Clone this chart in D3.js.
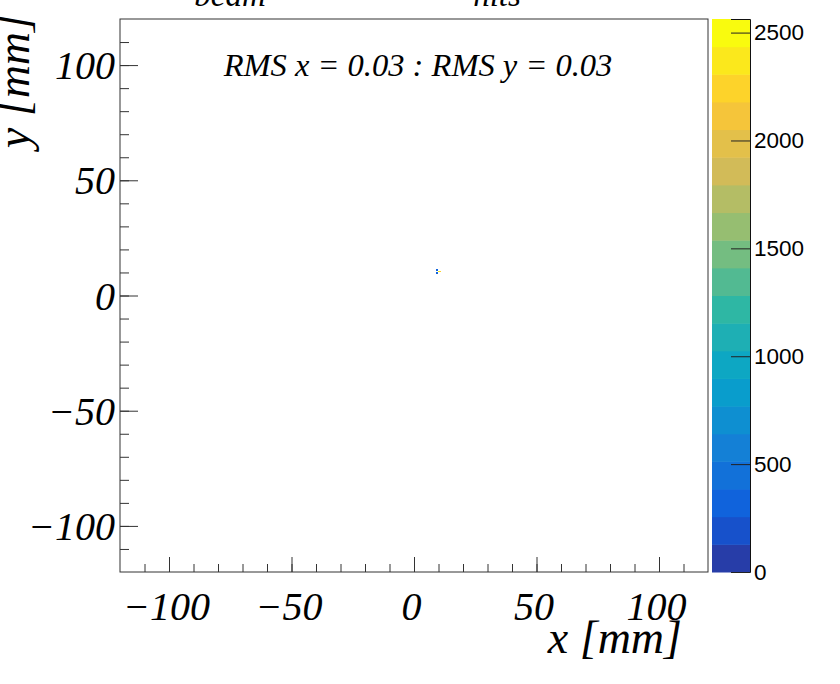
<!DOCTYPE html>
<html>
<head>
<meta charset="utf-8">
<script src="https://cdn.jsdelivr.net/npm/d3@7"></script>
<style>
  body { margin: 0; background: #fff; }
  svg { display: block; }
  .tim { font-family: "Liberation Serif", "Times New Roman", serif; font-style: italic; }
  .hel { font-family: "Liberation Sans", Arial, sans-serif; }
</style>
</head>
<body>
<svg id="chart" width="840" height="684"></svg>
<script>
// beam spot hits (2D histogram, bins of 0.8 mm)
var cellX = [9.6, 10.4, 8.8, 8.8];
var cellY = [10.0, 10.0, 10.8, 9.2];
var cellZ = [2563, 2300, 380, 320];
var binW = 0.8;

var xMajor = [-100, -50, 0, 50, 100];
var yMajor = [-100, -50, 0, 50, 100];
var zMajor = [0, 500, 1000, 1500, 2000, 2500];
var zMax = 2563;
var nLevels = 20;

var titleWords = ["beam", "hits"];
var statText = "RMS x = 0.03 : RMS y = 0.03";

(function () {
  // kBird palette stops
  var birdStops = ["#352a87", "#0f5cdd", "#1481d6", "#06a4ca", "#2eb7a4", "#87bf77", "#d1bb59", "#fec832", "#f9fb0e"];
  var bird = d3.piecewise(d3.interpolateRgb, birdStops);

  function levelColor(i) {
    var idx = Math.floor((i + 0.99) * 255 / nLevels);
    return bird(Math.min(idx, 254) / 254);
  }
  function zColor(v) {
    var lvl = Math.floor(0.01 + v / zMax * nLevels);
    return levelColor(Math.min(lvl, nLevels - 1));
  }
  function minusFmt(d) { return d < 0 ? "\u2212" + (-d) : d; }

  var svg = d3.select("#chart");
  var fL = 120, fR = 708, fT = 19, fB = 572;

  var x = d3.scaleLinear().domain([-120, 120]).range([fL, fR]);
  var y = d3.scaleLinear().domain([-120, 120]).range([fB, fT]);
  var z = d3.scaleLinear().domain([0, zMax]).range([fB, fT]);

  // cells
  svg.append("g").attr("shape-rendering", "crispEdges").selectAll("rect")
    .data(cellX.map(function (d, i) { return {x: d, y: cellY[i], z: cellZ[i]}; }))
    .enter().append("rect")
    .attr("x", function (d) { return x(d.x); })
    .attr("y", function (d) { return y(d.y + binW); })
    .attr("width", function (d) { return x(d.x + binW) - x(d.x); })
    .attr("height", function (d) { return y(d.y) - y(d.y + binW); })
    .attr("fill", function (d) { return zColor(d.z); });

  // frame
  svg.append("rect")
    .attr("x", fL).attr("y", fT)
    .attr("width", fR - fL).attr("height", fB - fT)
    .attr("fill", "none").attr("stroke", "#333").attr("stroke-width", 1);

  // x axis
  var xMinor = d3.range(-110, 120, 10);
  svg.append("g")
    .attr("transform", "translate(0," + fB + ")")
    .call(d3.axisBottom(x).tickValues(xMinor).tickSize(-8).tickFormat(""))
    .call(function (g) { g.select(".domain").remove(); g.selectAll("line").attr("stroke", "#333"); });
  var xAx = svg.append("g")
    .attr("transform", "translate(0," + fB + ")")
    .call(d3.axisBottom(x).tickValues(xMajor).tickSize(-15).tickFormat(minusFmt));
  xAx.select(".domain").remove();
  xAx.selectAll("line").attr("stroke", "#333");
  xAx.selectAll("text")
    .attr("class", "tim").attr("font-size", 40).attr("fill", "#000")
    .attr("x", -3).attr("y", 48).attr("dy", 0);

  // y axis
  var yMinor = d3.range(-110, 120, 10);
  svg.append("g")
    .attr("transform", "translate(" + fL + ",0)")
    .call(d3.axisLeft(y).tickValues(yMinor).tickSize(-9).tickFormat(""))
    .call(function (g) { g.select(".domain").remove(); g.selectAll("line").attr("stroke", "#333"); });
  var yAx = svg.append("g")
    .attr("transform", "translate(" + fL + ",0)")
    .call(d3.axisLeft(y).tickValues(yMajor).tickSize(-18).tickFormat(minusFmt));
  yAx.select(".domain").remove();
  yAx.selectAll("line").attr("stroke", "#333");
  yAx.selectAll("text")
    .attr("class", "tim").attr("font-size", 40).attr("fill", "#000")
    .attr("x", -5).attr("dy", "0.34em");

  // axis titles
  svg.append("text").attr("class", "tim")
    .attr("x", 682).attr("y", 653).attr("text-anchor", "end")
    .attr("font-size", 46).text("x [mm]");
  svg.append("text").attr("class", "tim")
    .attr("transform", "translate(29,14) rotate(-90)")
    .attr("text-anchor", "end")
    .attr("font-size", 46).text("y [mm]");

  // title (cut at the top)
  svg.append("text").attr("class", "tim")
    .attr("x", 230).attr("y", 6).attr("text-anchor", "middle")
    .attr("font-size", 33).text(titleWords[0]);
  svg.append("text").attr("class", "tim")
    .attr("x", 497).attr("y", 6).attr("text-anchor", "middle")
    .attr("font-size", 33).text(titleWords[1]);

  // stats
  svg.append("text").attr("class", "tim")
    .attr("x", 418).attr("y", 76).attr("text-anchor", "middle")
    .attr("font-size", 32.5).text(statText);

  // colour bar
  var barL = 712, barR = 750;
  svg.append("g").selectAll("rect")
    .data(d3.range(nLevels)).enter().append("rect")
    .attr("x", barL)
    .attr("y", function (i) { return z((i + 1) * zMax / nLevels); })
    .attr("width", barR - barL)
    .attr("height", function (i) { return z(i * zMax / nLevels) - z((i + 1) * zMax / nLevels) + 0.5; })
    .attr("fill", function (i) { return levelColor(i); });

  var zAx = svg.append("g")
    .attr("transform", "translate(" + barR + ",0)")
    .call(d3.axisRight(z).tickValues(zMajor).tickSize(-19).tickFormat(d3.format("d")));
  zAx.select(".domain").attr("stroke", "#111");
  zAx.selectAll("line").attr("stroke", "#222");
  zAx.selectAll("text")
    .attr("class", "hel").attr("font-size", 22.5).attr("fill", "#000")
    .attr("x", 4);
})();
</script>
</body>
</html>
